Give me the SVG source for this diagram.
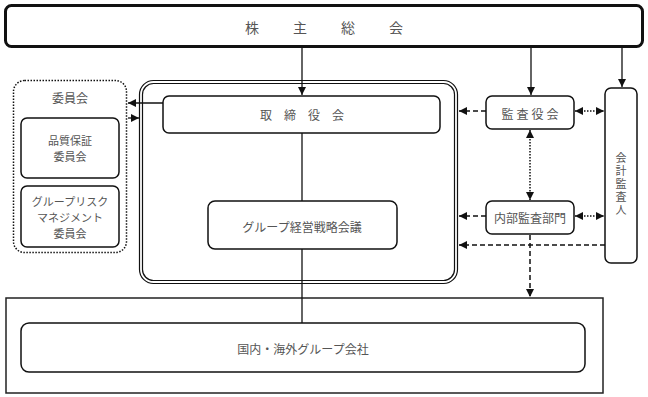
<svg xmlns="http://www.w3.org/2000/svg" width="648" height="397" viewBox="0 0 648 397">
<style>
  .box{fill:#fff;stroke:#111;stroke-width:1.5}
  .t{font-family:"Noto Sans CJK JP","Noto Sans CJK SC",sans-serif;font-size:12px;fill:#555;text-anchor:middle;dominant-baseline:central}
  .s{font-size:11px}
  .v{font-size:11px;writing-mode:vertical-rl;letter-spacing:2px}
  .solid{stroke:#111;stroke-width:1.3;fill:none}
  .dash{stroke:#111;stroke-width:1.5;fill:none;stroke-dasharray:5 3}
  .dot{stroke:#111;stroke-width:1.5;fill:none;stroke-dasharray:1.5 1.5}
</style>
<defs>
  <marker id="ah" markerUnits="userSpaceOnUse" markerWidth="9" markerHeight="9" refX="8" refY="4" orient="auto-start-reverse">
    <path d="M0,0 L8,4 L0,8 z" fill="#111"/>
  </marker>
</defs>
<rect width="648" height="397" fill="#fff"/>

<g id="shareholders">
  <rect x="5.5" y="5.5" width="637" height="41" rx="6" fill="#fff" stroke="#111" stroke-width="3"/>
  <text class="t" x="324" y="27" style="font-size:14px;letter-spacing:34px" dx="17">株主総会</text>
</g>

<g id="committees">
  <rect x="13.5" y="80.5" width="113" height="172" rx="11" fill="#fff" stroke="#111" stroke-width="1.5" stroke-dasharray="1.5 1.5"/>
  <text class="t" x="70" y="97">委員会</text>
</g>
<g id="quality">
  <rect class="box" x="21" y="118" width="98" height="60" rx="6"/>
  <text class="t s" x="70" y="140"><tspan x="70">品質保証</tspan><tspan x="70" dy="16">委員会</tspan></text>
</g>
<g id="risk">
  <rect class="box" x="21" y="186" width="98" height="61" rx="6"/>
  <text class="t s" x="70" y="201"><tspan x="70">グループリスク</tspan><tspan x="70" dy="16">マネジメント</tspan><tspan x="70" dy="16">委員会</tspan></text>
</g>

<g id="board-frame">
  <rect x="139.5" y="80.5" width="318" height="203" rx="14" fill="#fff" stroke="#111" stroke-width="1.2"/>
  <rect x="142.5" y="83.5" width="312" height="197" rx="11" fill="none" stroke="#111" stroke-width="1.2"/>
</g>
<g id="board">
  <rect class="box" x="163" y="96" width="277" height="37" rx="6"/>
  <text class="t" x="302" y="114" style="letter-spacing:12px" dx="6">取締役会</text>
</g>
<g id="strategy">
  <rect class="box" x="208" y="201" width="189" height="48" rx="7"/>
  <text class="t" x="302" y="226">グループ経営戦略会議</text>
</g>

<g id="auditors">
  <rect class="box" x="486" y="96" width="88" height="33" rx="6"/>
  <text class="t" x="530" y="113" style="letter-spacing:3px" dx="1.5">監査役会</text>
</g>
<g id="internal-audit">
  <rect class="box" x="486" y="201" width="88" height="33" rx="6"/>
  <text class="t" x="530" y="217">内部監査部門</text>
</g>
<g id="accounting-auditor">
  <rect class="box" x="605" y="88" width="32" height="175" rx="6"/>
  <text class="t v" x="621" y="185">会計監査人</text>
</g>

<g id="group-frame">
  <rect x="6" y="298" width="597" height="95" fill="#fff" stroke="#222" stroke-width="1.5"/>
</g>
<g id="group-companies">
  <rect class="box" x="21" y="323" width="564" height="49" rx="8"/>
  <text class="t" x="303" y="348">国内・海外グループ会社</text>
</g>

<g id="connectors">
  <line class="solid" x1="302" y1="47" x2="302" y2="95" marker-end="url(#ah)"/>
  <line class="solid" x1="531" y1="47" x2="531" y2="95" marker-end="url(#ah)"/>
  <line class="solid" x1="622" y1="47" x2="622" y2="87" marker-end="url(#ah)"/>
  <line class="solid" x1="163" y1="103" x2="128" y2="103" marker-end="url(#ah)"/>
  <line class="solid" x1="128" y1="118" x2="139" y2="118" marker-end="url(#ah)"/>
  <line class="solid" x1="302" y1="133" x2="302" y2="201"/>
  <line class="solid" x1="302" y1="249" x2="302" y2="323"/>
  <line class="dash" x1="486" y1="111" x2="459" y2="111" marker-end="url(#ah)"/>
  <line class="dot" x1="575" y1="111" x2="604" y2="111" marker-start="url(#ah)" marker-end="url(#ah)"/>
  <line class="dot" x1="530" y1="130" x2="530" y2="200" marker-start="url(#ah)" marker-end="url(#ah)"/>
  <line class="dash" x1="486" y1="216" x2="459" y2="216" marker-end="url(#ah)"/>
  <line class="dot" x1="575" y1="216" x2="604" y2="216" marker-start="url(#ah)" marker-end="url(#ah)"/>
  <line class="dash" x1="605" y1="245" x2="459" y2="245" marker-end="url(#ah)"/>
  <line class="dash" x1="530" y1="235" x2="530" y2="297" marker-end="url(#ah)"/>
</g>
</svg>
